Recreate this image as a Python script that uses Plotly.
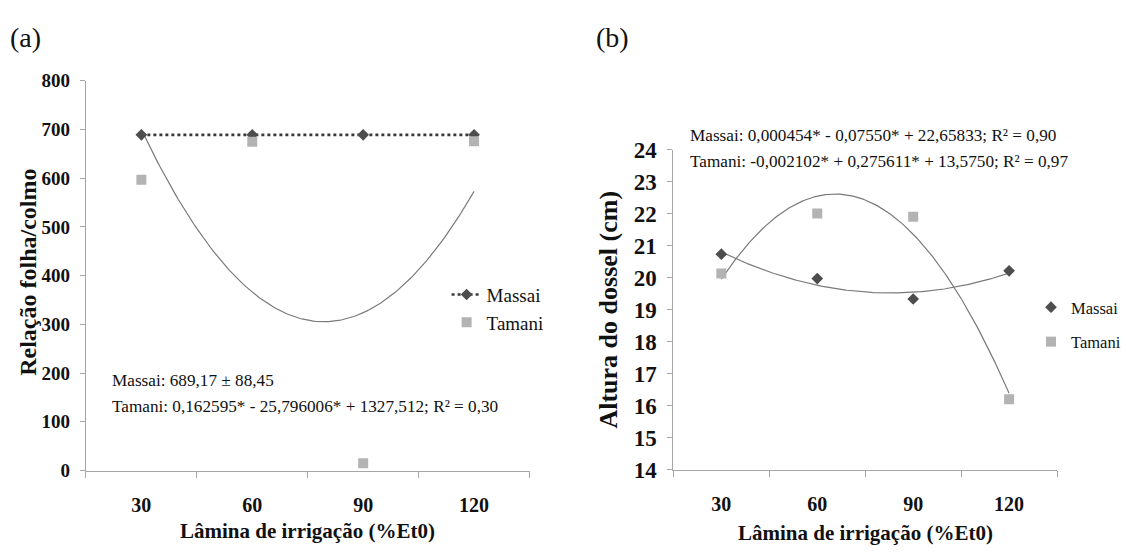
import numpy as np
import plotly.graph_objects as go

# ---------------- data ----------------
levels = [30, 60, 90, 120]
tick_labels = ["30", "60", "90", "120"]

relacao_massai = [689, 689, 689, 689]
relacao_tamani = [597, 675, 15, 676]

altura_massai = [20.73, 19.97, 19.33, 20.21]
altura_tamani = [20.13, 22.00, 21.90, 16.20]

eq_a = ["Massai: 689,17 ± 88,45",
        "Tamani: 0,162595* - 25,796006* + 1327,512; R² = 0,30"]
eq_b = ["Massai: 0,000454* - 0,07550* + 22,65833; R² = 0,90",
        "Tamani: -0,002102* + 0,275611* + 13,5750; R² = 0,97"]

# ---------------- styling ----------------
W, H = 1126, 559
FONT = "Liberation Serif"
C_MASSAI = "#4d4d4d"
C_TAMANI = "#b3b3b3"
C_TREND = "#7a7a7a"
C_AXIS = "#a6a6a6"


def px_x(p):
    return p / W


def px_y(p):
    return 1 - p / H


def trend(xs, ys):
    coef = np.polyfit(xs, ys, 2)
    xx = np.linspace(min(xs), max(xs), 200)
    return xx, np.polyval(coef, xx)


half = (levels[1] - levels[0]) / 2
bounds = [v - half for v in levels] + [levels[-1] + half]

fig = go.Figure()

# ---- panel (a)
xx, yy = trend(levels, relacao_tamani)
fig.add_trace(go.Scatter(x=xx, y=yy, mode="lines", line=dict(color=C_TREND, width=1.2),
                         showlegend=False, hoverinfo="skip", xaxis="x", yaxis="y"))
fig.add_trace(go.Scatter(x=levels, y=relacao_massai, mode="lines+markers", name="Massai",
                         line=dict(color="#3a3a3a", width=2.6, dash="dot"),
                         marker=dict(symbol="diamond", size=9, color=C_MASSAI),
                         legend="legend", legendgroup="am", xaxis="x", yaxis="y"))
fig.add_trace(go.Scatter(x=levels, y=relacao_tamani, mode="markers", name="Tamani",
                         marker=dict(symbol="square", size=10, color=C_TAMANI),
                         legend="legend", legendgroup="at", xaxis="x", yaxis="y"))

# ---- panel (b)
xx, yy = trend(levels, altura_massai)
fig.add_trace(go.Scatter(x=xx, y=yy, mode="lines", line=dict(color=C_TREND, width=1.2),
                         showlegend=False, hoverinfo="skip", xaxis="x2", yaxis="y2"))
xx, yy = trend(levels, altura_tamani)
fig.add_trace(go.Scatter(x=xx, y=yy, mode="lines", line=dict(color=C_TREND, width=1.2),
                         showlegend=False, hoverinfo="skip", xaxis="x2", yaxis="y2"))
fig.add_trace(go.Scatter(x=levels, y=altura_massai, mode="markers", name="Massai",
                         marker=dict(symbol="diamond", size=9, color=C_MASSAI),
                         legend="legend2", legendgroup="bm", xaxis="x2", yaxis="y2"))
fig.add_trace(go.Scatter(x=levels, y=altura_tamani, mode="markers", name="Tamani",
                         marker=dict(symbol="square", size=10, color=C_TAMANI),
                         legend="legend2", legendgroup="bt", xaxis="x2", yaxis="y2"))

xcommon = dict(range=[bounds[0], bounds[-1]], tickmode="array", tickvals=levels,
               ticktext=tick_labels, ticks="", showgrid=False, zeroline=False,
               showline=True, linecolor=C_AXIS, linewidth=1,
               tickfont=dict(family=FONT, size=20, color="#111", weight="bold"),
               ticklabelstandoff=16,
               minor=dict(tickmode="array", tickvals=bounds, ticks="outside",
                          ticklen=6, tickcolor=C_AXIS, showgrid=False))
ycommon = dict(showgrid=False, zeroline=False, showline=True, linecolor=C_AXIS,
               linewidth=1, ticks="outside", ticklen=5, tickcolor=C_AXIS,
               ticklabelstandoff=6)

fig.update_layout(
    width=W, height=H, margin=dict(l=0, r=0, t=0, b=0),
    paper_bgcolor="white", plot_bgcolor="white",
    font=dict(family=FONT, color="#111"),
    xaxis=dict(domain=[px_x(86), px_x(530)], anchor="y", **xcommon),
    yaxis=dict(domain=[px_y(480), px_y(72)], anchor="x", range=[0, 800], dtick=100,
               tickfont=dict(family=FONT, size=19, color="#111", weight="bold"), **ycommon),
    xaxis2=dict(domain=[px_x(674), px_x(1058)], anchor="y2", **xcommon),
    yaxis2=dict(domain=[px_y(479), px_y(144)], anchor="x2", range=[14, 24], dtick=1,
                tickfont=dict(family=FONT, size=23, color="#111", weight="bold"), **ycommon),
    legend=dict(x=px_x(447), y=px_y(276), xanchor="left", yanchor="top",
                font=dict(family=FONT, size=19, color="#111"), bgcolor="rgba(0,0,0,0)",
                tracegroupgap=0, itemwidth=30),
    legend2=dict(x=px_x(1032), y=px_y(291), xanchor="left", yanchor="top",
                 font=dict(family=FONT, size=16.5, color="#111"), bgcolor="rgba(0,0,0,0)",
                 tracegroupgap=10, itemwidth=30),
)

ann = []
ann.append(dict(text="(a)", x=px_x(8), y=px_y(27), xanchor="left", yanchor="middle",
                font=dict(size=28)))
ann.append(dict(text="(b)", x=px_x(595), y=px_y(27), xanchor="left", yanchor="middle",
                font=dict(size=28)))
ann.append(dict(text="<b>Relação folha/colmo</b>", x=px_x(28), y=px_y(272), textangle=-90,
                xanchor="center", yanchor="middle", font=dict(size=24)))
ann.append(dict(text="<b>Altura do dossel (cm)</b>", x=px_x(609), y=px_y(311), textangle=-90,
                xanchor="center", yanchor="middle", font=dict(size=26)))
ann.append(dict(text="<b>Lâmina de irrigação (%Et0)</b>", x=px_x(308), y=px_y(543),
                xanchor="center", yanchor="middle", font=dict(size=21)))
ann.append(dict(text="<b>Lâmina de irrigação (%Et0)</b>", x=px_x(866), y=px_y(545),
                xanchor="center", yanchor="middle", font=dict(size=21)))
for i, t in enumerate(eq_a):
    ann.append(dict(text=t, x=px_x(110), y=px_y(386 + 27 * i), xanchor="left",
                    yanchor="middle", font=dict(size=17.2)))
for i, t in enumerate(eq_b):
    ann.append(dict(text=t, x=px_x(689), y=px_y(129 + 28 * i), xanchor="left",
                    yanchor="middle", font=dict(size=17.2)))
for a in ann:
    a.update(xref="paper", yref="paper", showarrow=False)
    a["font"].update(family=FONT, color="#111")
fig.update_layout(annotations=ann)

fig.write_html("out.html",
               config={"displayModeBar": False},
               post_script="document.body.style.margin='0';document.body.style.overflow='hidden';")
